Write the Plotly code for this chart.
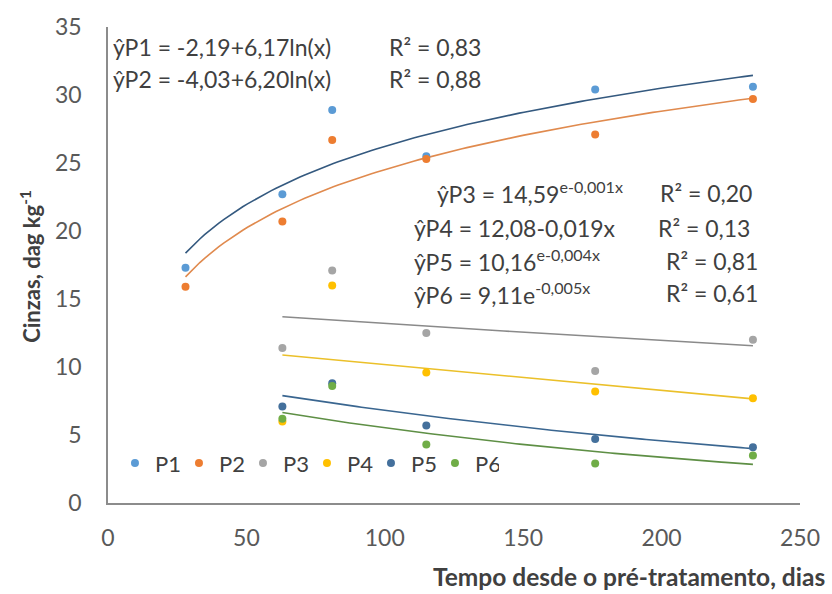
import numpy as np
import plotly.graph_objects as go

# Days since pre-treatment
days_p12 = [28, 63, 81, 115, 176, 233]
days_p36 = [63, 81, 115, 176, 233]

# Ash content (dag kg-1) per treatment
p1 = [17.3, 22.7, 28.9, 25.5, 30.4, 30.6]
p2 = [15.9, 20.7, 26.7, 25.3, 27.1, 29.7]
p3 = [11.4, 17.1, 12.5, 9.7, 12.0]
p4 = [6.0, 16.0, 9.6, 8.2, 7.7]
p5 = [7.1, 8.8, 5.7, 4.7, 4.1]
p6 = [6.2, 8.6, 4.3, 2.9, 3.5]

names = ["P1", "P2", "P3", "P4", "P5", "P6"]
marker_colors = ["#5B9BD5", "#ED7D31", "#A5A5A5", "#FFC000", "#44709C", "#70AD47"]
line_colors = ["#34597F", "#E08A4E", "#8A8A8A", "#EBC02A", "#3A6690", "#5E8F45"]

# Fitted trend equations (coefficients as printed)
def f1(x): return -2.19 + 6.17 * np.log(x)
def f2(x): return -4.03 + 6.20 * np.log(x)
def f3(x): return 14.59 * np.exp(-0.001 * x)
def f4(x): return 12.08 - 0.019 * x
def f5(x): return 10.16 * np.exp(-0.004 * x)
def f6(x): return 9.11 * np.exp(-0.005 * x)

series = [(days_p12, p1, f1), (days_p12, p2, f2), (days_p36, p3, f3),
          (days_p36, p4, f4), (days_p36, p5, f5), (days_p36, p6, f6)]

fig = go.Figure()

# Trend lines first so the markers sit on top
for (xs, ys, fn), lc in zip(series, line_colors):
    xx = np.linspace(min(xs), max(xs), 120)
    fig.add_trace(go.Scatter(x=xx, y=fn(xx), mode="lines",
                             line=dict(color=lc, width=1.6),
                             showlegend=False, hoverinfo="skip"))

for (xs, ys, fn), name, mc in zip(series, names, marker_colors):
    fig.add_trace(go.Scatter(x=xs, y=ys, mode="markers", name=name,
                             marker=dict(color=mc, size=8)))

FONT = "Lato, Open Sans, sans-serif"
TXT = "#404040"
TICK = "#595959"

# Plot area geometry (pixels)
L, R, T, B = 108, 29, 24, 91
PW, PH = 832 - L - R, 594 - T - B


def px_x(px):
    return (px - L) / PW


def px_y(py):
    return (594 - B - py) / PH


eq_left = [
    ("ŷP1 = -2,19+6,17ln(x)", "R² = 0,83", 44),
    ("ŷP2 = -4,03+6,20ln(x)", "R² = 0,88", 76),
]
eq_mid = [
    ("ŷP3 = 14,59<sup>e-0,001x</sup>", 436, "R² = 0,20", 660, 191),
    ("ŷP4 = 12,08-0,019x", 413, "R² = 0,13", 658, 226),
    ("ŷP5 = 10,16<sup>e-0,004x</sup>", 413, "R² = 0,81", 666, 259),
    ("ŷP6 = 9,11e<sup>-0,005x</sup>", 413, "R² = 0,61", 666, 292),
]

ann = []
for eq, r2, y in eq_left:
    ann.append(dict(x=px_x(111), y=px_y(y), text=eq, xanchor="left"))
    ann.append(dict(x=px_x(388), y=px_y(y), text=r2, xanchor="left"))
for eq, xe, r2, xr, y in eq_mid:
    ann.append(dict(x=px_x(xe), y=px_y(y), text=eq, xanchor="left"))
    ann.append(dict(x=px_x(xr), y=px_y(y), text=r2, xanchor="left"))
for a in ann:
    a.update(xref="paper", yref="paper", yanchor="middle", showarrow=False,
             font=dict(family=FONT, size=23, color=TXT))

# Axis titles
ann.append(dict(xref="paper", yref="paper", x=px_x(830), y=px_y(577),
                xanchor="right", yanchor="middle", showarrow=False,
                text="<b>Tempo desde o pré-tratamento, dias</b>",
                font=dict(family=FONT, size=24.5, color=TXT)))
ann.append(dict(xref="paper", yref="paper", x=px_x(30), y=px_y(265),
                xanchor="center", yanchor="middle", showarrow=False,
                textangle=-90,
                text="<b>Cinzas, dag kg<sup>-1</sup></b>",
                font=dict(family=FONT, size=22, color=TXT)))

fig.update_layout(
    width=832, height=594,
    margin=dict(l=L, r=R, t=T, b=B),
    paper_bgcolor="white", plot_bgcolor="white",
    font=dict(family=FONT, size=22, color=TICK),
    annotations=ann,
    legend=dict(orientation="h", x=px_x(115), y=px_y(463), xanchor="left",
                yanchor="middle", bgcolor="rgba(0,0,0,0)",
                font=dict(family=FONT, size=22, color=TXT),
                itemwidth=30, entrywidth=19, tracegroupgap=0),
    xaxis=dict(range=[0, 250], dtick=50, showgrid=False, zeroline=False,
               showline=True, linecolor="#8C8C8C", linewidth=1.5,
               ticks="", ticklabelstandoff=14,
               tickfont=dict(family=FONT, size=23, color=TICK)),
    yaxis=dict(range=[0, 35], dtick=5, showgrid=False, zeroline=False,
               showline=True, linecolor="#8C8C8C", linewidth=1.5,
               ticks="", ticklabelstandoff=20,
               tickfont=dict(family=FONT, size=23, color=TICK)),
)

fig.write_html("out.html")
